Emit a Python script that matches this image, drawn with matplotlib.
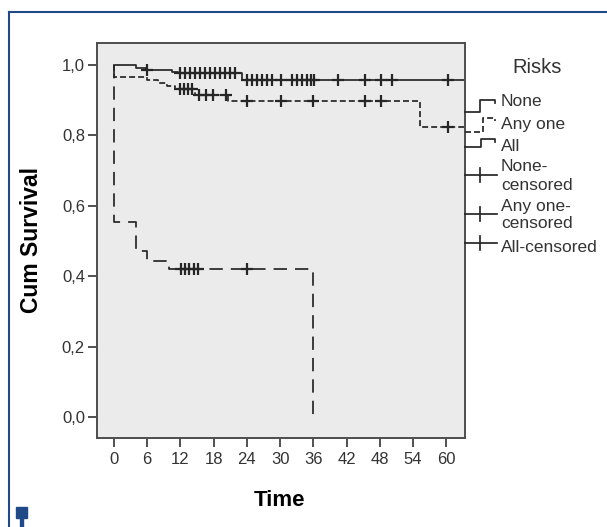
import numpy as np
import matplotlib
matplotlib.use('Agg')
import matplotlib.pyplot as plt
from matplotlib.lines import Line2D
from matplotlib.patches import Rectangle

plt.rcParams['font.family'] = ['Liberation Sans', 'DejaVu Sans']
plt.rcParams['lines.scale_dashes'] = False

# Kaplan-Meier steps: event times and survival after each step
none_t = [0, 4, 5.8, 10.5, 11.5, 23.2]
none_s = [1.0, 0.992, 0.985, 0.98, 0.976, 0.958]
none_cens = [6, 12, 12.9, 13.8, 14.7, 15.6, 16.5, 17.4, 18.3, 19.2, 20.1, 21.0,
             21.9, 24.0, 25.0, 25.9, 26.8, 27.7, 28.6, 30.1, 32.2, 33.1, 34.0,
             34.8, 35.5, 36.1, 40.4, 45.4, 48.2, 50.2, 60.3]

any_t = [0, 0, 6, 8, 9.5, 11, 14.6, 20.6, 55.3]
any_s = [1.0, 0.967, 0.958, 0.949, 0.94, 0.932, 0.915, 0.898, 0.823]
any_cens = [12.0, 12.7, 13.4, 14.1, 15.3, 16.6, 17.9, 20.3, 24.0, 30.1, 36.0,
            45.4, 48.2, 60.3]

all_t = [0, 0, 4, 6, 10, 36.0]
all_s = [1.0, 0.553, 0.471, 0.445, 0.42, 0.0]
all_cens = [12.05, 12.8, 13.6, 14.45, 15.2, 24.1]

xticks = [0, 6, 12, 18, 24, 30, 36, 42, 48, 54, 60]
yticks = [0.0, 0.2, 0.4, 0.6, 0.8, 1.0]
xmax = 63.4

W, H = 607, 527
fig = plt.figure(figsize=(W / 100, H / 100), dpi=100)
ax = fig.add_axes([96.7 / W, 1 - 438.3 / H, 368.3 / W, 395 / H])
ax.set_facecolor('#ebebeb')

col = '#262626'
lw = 1.25
ls_none = '-'
ls_any = (0, (4.3, 2.2))
ls_all = (0, (9.6, 5.8))


def surv_at(ts, ss, t):
    i = np.searchsorted(ts, t, side='right') - 1
    return np.array(ss)[i]


# curves
ax.step(none_t + [xmax], none_s + [none_s[-1]], where='post', color=col, lw=lw, ls=ls_none)
ax.step(any_t + [xmax], any_s + [any_s[-1]], where='post', color=col, lw=lw, ls=ls_any)
ax.step(all_t, all_s, where='post', color=col, lw=lw, ls=ls_all)

# censored marks
for ts, ss, cens in [(none_t, none_s, none_cens), (any_t, any_s, any_cens), (all_t, all_s, all_cens)]:
    ax.plot(cens, surv_at(ts, ss, cens), ls='none', marker='+', ms=9, mew=1.6, color=col)

ax.set_xlim(-3.13, xmax)
ax.set_ylim(-0.0596, 1.0616)
ax.set_xticks(xticks)
ax.set_yticks(yticks)
ax.set_yticklabels([('%.1f' % v).replace('.', ',') for v in yticks])
ax.tick_params(direction='out', length=6.5, width=1.2, color='#333333',
               labelsize=12, labelcolor='#333333')
ax.tick_params(axis='x', pad=3.5)
ax.tick_params(axis='y', pad=2)
for sp in ax.spines.values():
    sp.set_color('#4d4d4d')
    sp.set_linewidth(1.4)

fig.text(280 / W, 1 - 500 / H, 'Time', ha='center', va='center', fontsize=16, fontweight='bold')
fig.text(31.5 / W, 1 - 240 / H, 'Cum Survival', ha='center', va='center', rotation=90,
         fontsize=16.5, fontweight='bold')


# legend drawn in pixel coordinates
def px(x, y):
    return x / W, 1 - y / H


def fig_line(xs, ys, **kw):
    fx = [x / W for x in xs]
    fy = [1 - y / H for y in ys]
    fig.add_artist(Line2D(fx, fy, transform=fig.transFigure, color=col, lw=lw, **kw))


fig.text(*px(537, 67), 'Risks', ha='center', va='center', fontsize=14.5, color='#333333')
fig_line([465, 480, 480, 495, 495], [111.7, 111.7, 100, 100, 103.3], ls=ls_none)
fig_line([465, 483, 483, 495, 495], [131.7, 131.7, 118.3, 118.3, 121], ls=ls_any)
fig_line([465, 481, 481, 495, 495], [146.7, 146.7, 139.3, 139.3, 141.7], ls='-')
for yy in [175, 214, 242.7]:
    fig_line([465, 497], [yy, yy])
    fig_line([480, 480], [yy - 7, yy + 7])

lab = dict(ha='left', va='center', fontsize=12.5, color='#333333')
fig.text(*px(501, 101.7), 'None', **lab)
fig.text(*px(501, 124), 'Any one', **lab)
fig.text(*px(501, 146), 'All', **lab)
fig.text(*px(501, 166.7), 'None-', **lab)
fig.text(*px(501, 185.5), 'censored', **lab)
fig.text(*px(501, 206.7), 'Any one-', **lab)
fig.text(*px(501, 224), 'censored', **lab)
fig.text(*px(501, 247.3), 'All-censored', **lab)

# page decoration: blue border and marker
blue = '#1f4a87'
fig.add_artist(Line2D([9 / W, 1], [1 - 12 / H, 1 - 12 / H], transform=fig.transFigure, color=blue, lw=1.5))
fig.add_artist(Line2D([9 / W, 9 / W], [0, 1 - 12 / H], transform=fig.transFigure, color=blue, lw=1.5))
fig.add_artist(Rectangle((16 / W, 1 - 518 / H), 11 / W, 11 / H, transform=fig.transFigure, color=blue))
fig.add_artist(Rectangle((20 / W, 0), 2.5 / W, 9.5 / H, transform=fig.transFigure, color=blue))

plt.savefig('out.png', dpi=100)
